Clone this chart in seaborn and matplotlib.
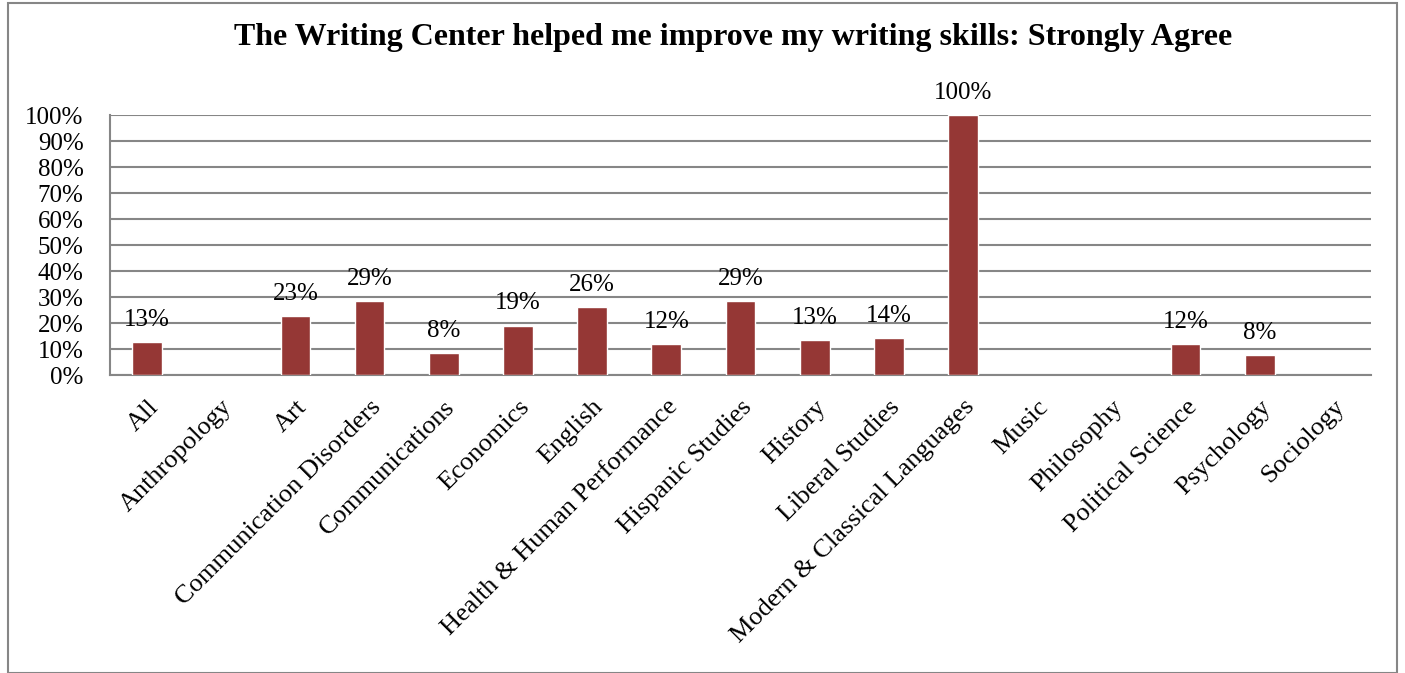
import numpy as np
import pandas as pd
import seaborn as sns
import matplotlib.pyplot as plt
from matplotlib.patches import Rectangle

# values (share answering "Strongly Agree"); NaN = no bar
categories = [
    "All", "Anthropology", "Art", "Communication Disorders", "Communications",
    "Economics", "English", "Health & Human Performance", "Hispanic Studies",
    "History", "Liberal Studies", "Modern & Classical Languages", "Music",
    "Philosophy", "Political Science", "Psychology", "Sociology",
]
strongly_agree = [
    0.128, np.nan, 0.227, 0.286, 0.083,
    0.190, 0.263, 0.120, 0.286,
    0.133, 0.143, 1.000, np.nan,
    np.nan, 0.118, 0.077, np.nan,
]
y_ticks = np.arange(0, 1.01, 0.1)
title = "The Writing Center helped me improve my writing skills: Strongly Agree"

df = pd.DataFrame({"Department": categories, "Share": strongly_agree})

sns.set_style("white")
plt.rcParams["font.family"] = ["Liberation Serif", "DejaVu Serif"]
plt.rcParams["text.color"] = "black"
plt.rcParams["xtick.color"] = "black"
plt.rcParams["ytick.color"] = "black"

fig = plt.figure(figsize=(14.05, 6.73), dpi=100)
ax = fig.add_axes([110 / 1405, 1 - 375 / 673, (1371 - 110) / 1405, 260 / 673])

sns.barplot(data=df.dropna(), x="Department", y="Share", order=categories,
            color="#953735", saturation=1, width=0.4, ax=ax, zorder=3)

ax.set_ylim(0, 1)
ax.set_xlim(-0.5, len(categories) - 0.5)
ax.set_yticks(y_ticks)
ax.set_yticklabels([f"{int(round(t * 100))}%" for t in y_ticks], fontsize=18)
ax.yaxis.grid(True, color="#868686", linewidth=1.5, zorder=0)
ax.set_axisbelow(True)
ax.tick_params(axis="both", length=0)
ax.tick_params(axis="y", pad=19)
ax.tick_params(axis="x", pad=15)
ax.set_xticks(range(len(categories)))
ax.set_xticklabels(categories, rotation=45, ha="right", rotation_mode="anchor", fontsize=19)
ax.set_xlabel("")
ax.set_ylabel("")

for side in ["top", "right"]:
    ax.spines[side].set_visible(False)
for side in ["left", "bottom"]:
    ax.spines[side].set_color("#868686")
    ax.spines[side].set_linewidth(1.5)

# value labels above bars
for i, v in enumerate(strongly_agree):
    if np.isnan(v):
        continue
    ax.annotate(f"{int(round(v * 100))}%", (i, v), xytext=(0, 8),
                textcoords="offset points", ha="center", va="bottom", fontsize=18,
                annotation_clip=False)

fig.text(0.522, 1 - 37 / 673, title, ha="center", va="center",
         fontsize=23, fontweight="bold")

# outer frame of the chart area
fig.patches.append(Rectangle((8 / 1405, 0.5 / 673), 1389 / 1405, 670 / 673,
                             transform=fig.transFigure, fill=False,
                             edgecolor="#868686", linewidth=1.5))

fig.savefig("out.png", dpi=100)
